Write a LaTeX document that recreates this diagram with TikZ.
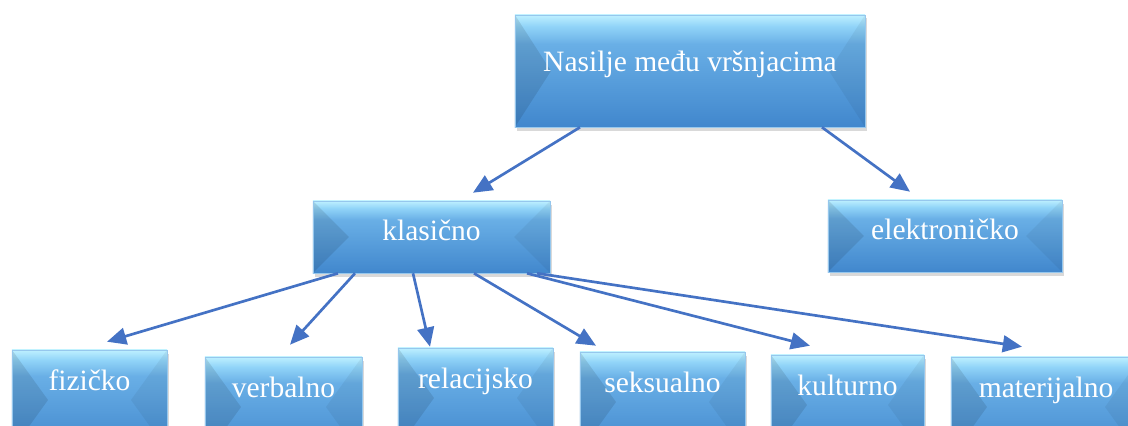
\documentclass[tikz,border=0pt]{standalone}
\usepackage{fontspec}
\setmainfont{Liberation Serif}
\usepackage{xcolor}
\usepackage{tikz}
\usetikzlibrary{arrows.meta,shadows}
\definecolor{plavaStrelica}{RGB}{68,114,196}
\definecolor{blokVrh}{RGB}{190,240,255}
\definecolor{blokSvijetla}{RGB}{145,212,248}
\definecolor{blokGore}{RGB}{105,175,230}
\definecolor{blokDno}{RGB}{65,135,205}
\pgfdeclareverticalshading{blokSjena}{100bp}{color(0bp)=(blokDno); color(25bp)=(blokDno); color(62bp)=(blokGore); color(70bp)=(blokSvijetla); color(75bp)=(blokVrh); color(100bp)=(blokVrh)}

\begin{document}
\begin{tikzpicture}[x=0.025cm, y=-0.025cm,
        blok/.style={shade, shading=blokSjena, draw=blokGore!70!white, line width=0.4pt,
                     text=white, font=\fontsize{21}{25}\selectfont, inner xsep=0pt, inner ysep=0pt,
                     drop shadow={shadow xshift=1.5pt, shadow yshift=-2.5pt, opacity=0.25, fill=black!60},
                     path picture={
                        \fill[black, opacity=0.1] (path picture bounding box.north west)
                            -- ([xshift=0.9cm]path picture bounding box.west) -- (path picture bounding box.south west) -- cycle;
                        \fill[black, opacity=0.05] (path picture bounding box.north east)
                            -- ([xshift=-0.9cm]path picture bounding box.east) -- (path picture bounding box.south east) -- cycle;
                     }},
        srednji/.style={text height=0.975cm, text depth=0.825cm},
        donji/.style={text height=1cm, text depth=1.5cm},
        strelica/.style={draw=plavaStrelica, line width=1.9pt, -{Triangle[length=4.8mm, width=4.2mm]}}
    ]
        \clip (0,0) rectangle (1128,426);
        \node[blok, minimum width=8.75cm, text height=1.425cm, text depth=1.375cm] (nasilje) at (690,71) {Nasilje među vršnjacima};
        \node[blok, srednji, minimum width=5.925cm] (klasicno) at (431.5,237) {klasično};
        \node[blok, srednji, minimum width=5.85cm] (elektronicko) at (945,236) {elektroničko};
        \node[blok, donji, minimum width=3.875cm] (fizicko) at (89.5,400) {fizičko};
        \node[blok, donji, minimum width=3.925cm] (verbalno) at (283.5,407) {verbalno};
        \node[blok, donji, minimum width=3.875cm] (relacijsko) at (475.5,398) {relacijsko};
        \node[blok, donji, minimum width=4.125cm] (seksualno) at (662.5,402) {seksualno};
        \node[blok, donji, minimum width=3.825cm] (kulturno) at (847.5,405) {kulturno};
        \node[blok, donji, minimum width=4.75cm] (materijalno) at (1046,407) {materijalno};
        \draw[strelica] ([shift={(-110,0)}]nasilje.south) -- ([shift={(41.5,-8)}]klasicno.north);
        \draw[strelica] ([shift={(132,0)}]nasilje.south) -- ([shift={(-35,-8)}]elektronicko.north);
        \draw[strelica] ([shift={(-93.5,0)}]klasicno.south) -- ([shift={(17.5,-8)}]fizicko.north);
        \draw[strelica] ([shift={(-76.5,0)}]klasicno.south) -- ([shift={(6.5,-12)}]verbalno.north);
        \draw[strelica] ([shift={(-18.5,0)}]klasicno.south) -- ([shift={(-45.5,-1)}]relacijsko.north);
        \draw[strelica] ([shift={(42.5,0)}]klasicno.south) -- ([shift={(-66.5,-6)}]seksualno.north);
        \draw[strelica] ([shift={(95.5,0)}]klasicno.south) -- ([shift={(-37.5,-9)}]kulturno.north);
        \draw[strelica] ([shift={(105.5,0)}]klasicno.south) -- ([shift={(-24,-10)}]materijalno.north);
    \end{tikzpicture}
\end{document}
